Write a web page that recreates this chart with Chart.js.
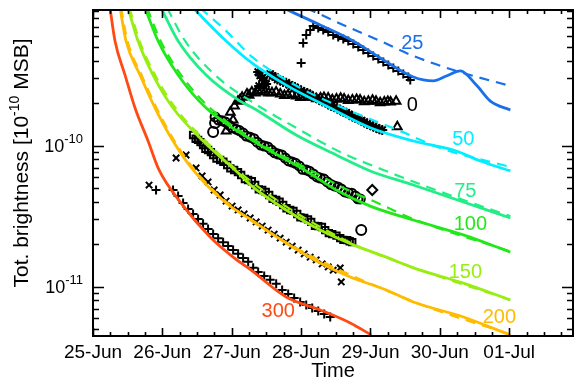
<!DOCTYPE html>
<html>
<head>
<meta charset="utf-8">
<script src="https://cdn.jsdelivr.net/npm/chart.js@4"></script>
<style>
  html, body { margin: 0; padding: 0; background: #fff; }
</style>
</head>
<body>
<canvas id="lightCurves" width="581" height="387"></canvas>
<script>
// x = days since 25-Jun 00:00, y = total brightness
var dayLabels = ["25-Jun", "26-Jun", "27-Jun", "28-Jun", "29-Jun", "30-Jun", "01-Jul"];
var decades = [-12, -11, -10, -9];

// model curves, solid
var model300 = [[0.245,9.48e-10],[0.317,5.53e-10],[0.462,3.17e-10],[0.606,1.85e-10],[0.794,1.08e-10],[0.952,6.73e-11],[1.270,3.92e-11],[1.688,2.25e-11],[2.020,1.62e-11],[2.280,1.31e-11],[2.785,8.45e-12],[3.276,6.84e-12],[3.709,5.53e-12],[4.012,4.54e-12]];
var model200 = [[0.390,9.48e-10],[0.476,5.53e-10],[0.678,3.17e-10],[0.895,1.85e-10],[1.154,1.08e-10],[1.443,6.73e-11],[1.919,3.92e-11],[2.309,2.92e-11],[2.785,2.04e-11],[3.276,1.47e-11],[3.709,1.17e-11],[4.228,9.48e-12],[4.618,7.79e-12],[5.339,6.10e-12],[6.017,4.54e-12]];
var model150 = [[0.505,9.48e-10],[0.649,5.53e-10],[0.866,3.17e-10],[1.154,1.85e-10],[1.587,1.08e-10],[2.063,6.62e-11],[2.309,5.09e-11],[2.785,3.50e-11],[3.276,2.52e-11],[3.752,1.98e-11],[4.228,1.62e-11],[4.618,1.36e-11],[5.339,1.06e-11],[6.017,8.05e-12]];
var model100 = [[0.750,9.48e-10],[0.938,5.53e-10],[1.227,3.17e-10],[1.631,1.85e-10],[2.367,1.04e-10],[3.074,6.62e-11],[3.506,4.85e-11],[3.997,3.73e-11],[4.618,2.97e-11],[5.339,2.33e-11],[6.017,1.76e-11]];
var model75 = [[0.981,9.48e-10],[1.227,5.53e-10],[1.631,3.17e-10],[2.121,2.07e-10],[2.309,1.85e-10],[2.929,1.19e-10],[3.506,8.59e-11],[3.997,6.62e-11],[4.618,5.26e-11],[5.339,3.99e-11],[6.017,3.07e-11]];
var model50 = [[1.443,9.48e-10],[1.919,5.53e-10],[2.309,3.80e-10],[2.785,2.69e-10],[3.420,1.85e-10],[3.997,1.34e-10],[4.618,1.08e-10],[5.195,9.32e-11],[5.584,7.79e-11],[6.017,6.62e-11]];
var model25 = [[2.742,9.48e-10],[3.276,7.18e-10],[3.752,5.53e-10],[4.141,4.19e-10],[4.618,3.07e-10],[4.906,2.88e-10],[5.094,3.12e-10],[5.296,3.39e-10],[5.527,2.69e-10],[5.729,2.07e-10],[6.017,1.79e-10]];

// model curves, dashed
var dash200 = [[0.405,9.48e-10],[0.497,5.53e-10],[0.700,3.17e-10],[0.916,1.85e-10],[1.176,1.08e-10],[1.465,6.73e-11],[1.934,3.95e-11],[2.785,2.06e-11],[4.618,7.85e-12],[6.017,4.58e-12]];
var dash150 = [[0.527,9.48e-10],[0.671,5.53e-10],[0.895,3.17e-10],[1.190,1.85e-10],[1.623,1.08e-10],[2.092,6.62e-11],[2.843,3.55e-11],[3.752,2.01e-11],[4.618,1.37e-11],[6.017,8.05e-12]];
var dash100 = [[0.780,9.48e-10],[0.975,5.53e-10],[1.270,3.17e-10],[1.688,1.85e-10],[2.410,1.04e-10],[3.131,6.73e-11],[3.636,4.95e-11],[4.141,3.85e-11],[4.618,3.02e-11],[6.017,1.78e-11]];
var dash75 = [[1.068,9.48e-10],[1.328,5.53e-10],[1.760,3.17e-10],[2.338,1.98e-10],[2.929,1.34e-10],[3.564,9.02e-11],[4.185,6.73e-11],[5.339,4.12e-11],[6.017,3.17e-11]];
var dash50 = [[1.544,9.48e-10],[1.905,6.62e-10],[2.294,4.26e-10],[2.987,2.57e-10],[3.608,1.85e-10],[4.430,1.27e-10],[5.007,9.63e-11],[6.017,7.06e-11]];
var dash25 = [[3.074,9.48e-10],[3.608,7.18e-10],[4.141,5.53e-10],[4.618,4.33e-10],[5.195,3.44e-10],[6.017,2.65e-10]];

// observations
var obs25 = [[3.001,3.86e-10],[3.030,5.35e-10],[3.074,6.10e-10],[3.131,6.62e-10],[3.175,7.06e-10],[3.247,6.84e-10],[3.319,6.62e-10],[3.391,6.40e-10],[3.463,6.10e-10],[3.535,5.90e-10],[3.608,5.71e-10],[3.680,5.53e-10],[3.752,5.26e-10],[3.824,5.01e-10],[3.896,4.77e-10],[3.968,4.54e-10],[4.040,4.33e-10],[4.113,4.12e-10],[4.185,3.92e-10],[4.257,3.74e-10],[4.329,3.56e-10],[4.401,3.39e-10],[4.473,3.23e-10],[4.545,3.07e-10],[4.574,2.92e-10]];
var obs50 = [[2.381,3.33e-10],[2.439,3.02e-10],[2.496,2.74e-10],[2.395,2.65e-10],[2.554,3.23e-10],[2.626,3.07e-10],[2.698,2.92e-10],[2.785,2.79e-10],[2.872,2.65e-10],[2.958,2.52e-10],[3.045,2.40e-10],[3.131,2.29e-10],[3.218,2.18e-10],[3.304,2.07e-10],[3.391,1.98e-10],[3.478,1.88e-10],[3.564,1.79e-10],[3.651,1.71e-10],[3.738,1.62e-10],[3.824,1.55e-10],[3.911,1.47e-10],[3.997,1.40e-10],[4.084,1.34e-10],[4.170,1.29e-10],
  [2.41,3.15e-10],[2.47,2.90e-10],[2.59,3.12e-10],[2.66,2.95e-10],[2.74,2.83e-10],[2.83,2.70e-10],[2.91,2.60e-10],[3.00,2.45e-10],[3.09,2.36e-10],[3.17,2.22e-10],[3.26,2.13e-10],[3.35,2.03e-10],[3.43,1.92e-10],[3.52,1.84e-10],[3.61,1.74e-10],[3.69,1.67e-10],[3.78,1.58e-10],[3.87,1.51e-10],[3.95,1.43e-10],[4.04,1.37e-10],[4.13,1.31e-10]];
var obs0 = [[1.919,1.27e-10],[2.020,1.52e-10],[1.98,1.73e-10],[2.04,1.91e-10],[2.09,2.07e-10],[2.15,2.21e-10],[2.22,2.33e-10],[2.29,2.40e-10],[2.38,2.44e-10],[2.48,2.40e-10],[2.58,2.37e-10],[2.70,2.33e-10],[2.81,2.29e-10],[2.93,2.25e-10],[3.05,2.21e-10],[3.16,2.21e-10],[3.28,2.18e-10],[3.39,2.18e-10],[3.51,2.14e-10],[3.62,2.14e-10],[3.74,2.11e-10],[3.85,2.11e-10],[3.97,2.07e-10],[4.08,2.07e-10],[4.20,2.04e-10],[4.29,2.04e-10],[4.37,2.07e-10],[4.387,1.36e-10],
  [2.12,2.12e-10],[2.25,2.28e-10],[2.34,2.36e-10],[2.43,2.47e-10],[2.53,2.36e-10],[2.64,2.40e-10],[2.76,2.27e-10],[2.87,2.31e-10],[2.99,2.20e-10],[3.10,2.24e-10],[3.22,2.15e-10],[3.33,2.20e-10],[3.45,2.12e-10],[3.57,2.17e-10],[3.68,2.09e-10],[3.80,2.13e-10],[3.91,2.05e-10],[4.03,2.10e-10],[4.14,2.02e-10],[4.25,2.06e-10]];
var obs100 = [[1.760,1.60e-10],[1.861,1.50e-10],[1.962,1.40e-10],[2.063,1.31e-10],[2.164,1.23e-10],[2.266,1.15e-10],[2.367,1.06e-10],[2.468,9.95e-11],[2.569,9.32e-11],[2.670,8.73e-11],[2.771,8.18e-11],[2.872,7.66e-11],[2.973,7.18e-11],[3.074,6.73e-11],[3.175,6.30e-11],[3.276,5.90e-11],[3.377,5.53e-11],[3.478,5.18e-11],[3.579,4.93e-11],[3.680,4.62e-11],[3.781,4.40e-11],[3.853,4.19e-11],
  [1.81,1.52e-10],[1.91,1.47e-10],[2.01,1.34e-10],[2.11,1.28e-10],[2.21,1.17e-10],[2.32,1.12e-10],[2.42,1.01e-10],[2.52,9.8e-11],[2.62,8.9e-11],[2.72,8.6e-11],[2.82,7.8e-11],[2.92,7.5e-11],[3.02,6.8e-11],[3.12,6.6e-11],[3.23,6.0e-11],[3.33,5.8e-11],[3.43,5.3e-11],[3.53,5.1e-11],[3.63,4.7e-11],[3.73,4.6e-11],[3.82,4.2e-11]];
var obs100End = [[4.026,4.85e-11]];
var obs150 = [[1.443,1.19e-10],[1.515,1.10e-10],[1.587,1.01e-10],[1.659,9.32e-11],[1.732,8.59e-11],[1.833,7.92e-11],[1.934,7.30e-11],[2.035,6.73e-11],[2.136,6.20e-11],[2.237,5.71e-11],[2.338,5.26e-11],[2.439,4.85e-11],[2.540,4.47e-11],[2.641,4.12e-11],[2.742,3.80e-11],[2.843,3.50e-11],[2.944,3.28e-11],[3.045,3.07e-11],[3.146,2.88e-11],[3.247,2.69e-11],[3.348,2.52e-11],[3.449,2.36e-11],[3.564,2.21e-11],[3.665,2.14e-11],[3.737,2.07e-11],
  [1.48,1.12e-10],[1.55,1.06e-10],[1.62,9.5e-11],[1.70,9.0e-11],[1.78,8.1e-11],[1.88,7.7e-11],[1.98,6.9e-11],[2.09,6.5e-11],[2.19,5.8e-11],[2.29,5.6e-11],[2.39,4.9e-11],[2.49,4.7e-11],[2.59,4.2e-11],[2.69,4.0e-11],[2.79,3.6e-11],[2.89,3.45e-11],[2.99,3.1e-11],[3.10,3.0e-11],[3.20,2.7e-11],[3.30,2.65e-11],[3.40,2.4e-11],[3.51,2.3e-11],[3.61,2.15e-11],[3.70,2.1e-11]];
var obsCircles = [[3.867,2.52e-11],[1.760,1.45e-10],[1.732,1.25e-10]];
var obs200 = [[1.198,8.18e-11],[1.342,8.59e-11],[1.486,6.95e-11],[1.573,6.10e-11],[1.659,5.53e-11],[1.746,4.85e-11],[1.833,4.47e-11],[1.919,4.05e-11],[2.006,3.73e-11],[2.092,3.50e-11],[2.179,3.28e-11],[2.266,3.07e-11],[2.352,2.88e-11],[2.439,2.69e-11],[2.525,2.52e-11],[2.612,2.36e-11],[2.698,2.21e-11],[2.785,2.07e-11],[2.872,1.94e-11],[2.958,1.82e-11],[3.045,1.71e-11],[3.131,1.62e-11],[3.218,1.55e-11],[3.304,1.45e-11],[3.391,1.38e-11],[3.463,1.31e-11],[3.564,1.36e-11],[3.579,1.08e-11],[0.808,5.26e-11]];
var obs300 = [[0.909,4.85e-11],[1.154,4.85e-11],[1.227,4.40e-11],[1.299,3.92e-11],[1.371,3.56e-11],[1.443,3.28e-11],[1.515,3.02e-11],[1.587,2.79e-11],[1.659,2.57e-11],[1.732,2.36e-11],[1.804,2.21e-11],[1.876,2.07e-11],[1.948,1.94e-11],[2.020,1.82e-11],[2.092,1.71e-11],[2.164,1.60e-11],[2.237,1.50e-11],[2.309,1.36e-11],[2.381,1.27e-11],[2.468,1.19e-11],[2.554,1.12e-11],[2.641,1.05e-11],[2.727,9.48e-12],[2.814,8.88e-12],[2.900,8.32e-12],[2.987,7.79e-12],[3.074,7.42e-12],[3.160,7.06e-12],[3.247,6.73e-12],[3.333,6.41e-12],[3.420,6.10e-12]];

var curveColors = { "300": "#ff4a14", "200": "#ffbb00", "150": "#99ee11", "100": "#22e81a", "75": "#22ee88", "50": "#00eeff", "25": "#1a70e8", "0": "#000000" };

// where the angle labels sit (day, brightness)
var curveLabels = [
  ["25", 4.603, 5.35e-10],
  ["0", 4.603, 1.94e-10],
  ["50", 5.339, 1.10e-10],
  ["75", 5.368, 4.77e-11],
  ["100", 5.440, 2.74e-11],
  ["150", 5.368, 1.27e-11],
  ["200", 5.859, 6.00e-12],
  ["300", 2.670, 6.62e-12]
];

function pts(arr) {
  return arr.map(function (p) { return { x: p[0], y: p[1] }; });
}

function curve(arr, key, dashed) {
  return {
    data: pts(arr),
    showLine: true,
    borderColor: curveColors[key],
    borderWidth: dashed ? 2.2 : 2.8,
    borderDash: dashed ? [10, 7] : [],
    pointRadius: 0,
    cubicInterpolationMode: "monotone",
    fill: false,
    order: 0,
  };
}

function marks(arr, style, r) {
  return {
    data: pts(arr),
    showLine: false,
    pointStyle: style,
    pointRadius: r || 4.5,
    borderColor: "#000",
    backgroundColor: "rgba(0,0,0,0)",
    borderWidth: 2,
    order: 1,
  };
}

var datasets = [
  curve(dash200, "200", true),
  curve(dash150, "150", true),
  curve(dash100, "100", true),
  curve(dash75, "75", true),
  curve(dash50, "50", true),
  curve(dash25, "25", true),
  curve(model300, "300"),
  curve(model200, "200"),
  curve(model150, "150"),
  curve(model100, "100"),
  curve(model75, "75"),
  curve(model50, "50"),
  curve(model25, "25"),
  marks(obs25, "cross"),
  marks(obs50, "star", 5),
  marks(obs0, "triangle", 5),
  marks(obs100, "circle"),
  marks(obs100End, "rectRot", 5),
  marks(obs150, "rect"),
  marks(obsCircles, "circle", 5),
  marks(obs200, "crossRot"),
  marks(obs300, "cross"),
];

function drawPow(c, base, exp, xRight, yBase, size, supSize, rise) {
  c.font = size + "px 'Liberation Sans', Arial, sans-serif";
  var wb = c.measureText(base).width;
  c.font = supSize + "px 'Liberation Sans', Arial, sans-serif";
  var we = c.measureText(exp).width;
  c.textAlign = "left";
  c.textBaseline = "alphabetic";
  c.font = size + "px 'Liberation Sans', Arial, sans-serif";
  c.fillText(base, xRight - wb - we, yBase);
  c.font = supSize + "px 'Liberation Sans', Arial, sans-serif";
  c.fillText(exp, xRight - we, yBase - rise);
}

// box, inward ticks, log labels, y title, curve labels
var frame = {
  id: "frame",
  afterDatasetsDraw: function (chart) {
    var c = chart.ctx, a = chart.chartArea, x = chart.scales.x, y = chart.scales.y;
    c.save();
    c.strokeStyle = "#000";
    c.fillStyle = "#000";
    c.lineWidth = 1.6;
    c.beginPath();
    for (var q = 0; q / 4 <= x.max; q++) {
      var px = Math.round(x.getPixelForValue(q / 4)) + 0.5;
      var len = q % 4 === 0 ? 8 : 4;
      c.moveTo(px, a.bottom); c.lineTo(px, a.bottom - len);
      c.moveTo(px, a.top); c.lineTo(px, a.top + len);
    }
    decades.forEach(function (e) {
      for (var m = 1; m <= 9; m++) {
        var v = m * Math.pow(10, e);
        if (v < y.min || v > y.max) continue;
        var py = Math.round(y.getPixelForValue(v)) + 0.5;
        var tl = m === 1 ? 11 : 6;
        c.moveTo(a.left, py); c.lineTo(a.left + tl, py);
        c.moveTo(a.right, py); c.lineTo(a.right - tl, py);
      }
    });
    c.stroke();
    c.lineWidth = 2;
    c.strokeRect(a.left, a.top, a.right - a.left, a.bottom - a.top);

    decades.forEach(function (e) {
      var v = Math.pow(10, e);
      if (v < y.min || v > y.max) return;
      var py = y.getPixelForValue(v);
      drawPow(c, "10", "-" + Math.abs(e), a.left - 10, py + 6.5, 18, 13, 9);
    });

    c.save();
    c.translate(28, (a.top + a.bottom) / 2 - 10);
    c.rotate(-Math.PI / 2);
    var f = "21px 'Liberation Sans', Arial, sans-serif", fs = "14px 'Liberation Sans', Arial, sans-serif";
    var t1 = "Tot. brightness [10", t2 = "-10", t3 = " MSB]";
    c.font = f; var w1 = c.measureText(t1).width, w3 = c.measureText(t3).width;
    c.font = fs; var w2 = c.measureText(t2).width;
    var x0 = -(w1 + w2 + w3) / 2;
    c.textBaseline = "alphabetic"; c.textAlign = "left";
    c.font = f; c.fillText(t1, x0, 0);
    c.font = fs; c.fillText(t2, x0 + w1, -9);
    c.font = f; c.fillText(t3, x0 + w1 + w2, 0);
    c.restore();

    c.font = "20px 'Liberation Sans', Arial, sans-serif";
    c.textAlign = "center";
    c.textBaseline = "middle";
    curveLabels.forEach(function (l) {
      c.fillStyle = curveColors[l[0]];
      c.fillText(l[0], x.getPixelForValue(l[1]), y.getPixelForValue(l[2]));
    });
    c.restore();
  },
};

//charts
Chart.defaults.font.family = "'Liberation Sans', Arial, sans-serif";
Chart.defaults.color = "#000";

var ctx = document.getElementById("lightCurves");

var LightChart = new Chart(ctx, {
  type: "scatter",
  data: { datasets: datasets },
  options: {
    responsive: false,
    animation: false,
    layout: { padding: { left: 0, right: 8, top: 10, bottom: 0 } },
    plugins: { legend: { display: false }, tooltip: { enabled: false } },
    scales: {
      x: {
        type: "linear",
        min: 0,
        max: 6.92,
        grid: { display: false, drawTicks: false },
        border: { display: false },
        ticks: {
          stepSize: 1,
          includeBounds: false,
          autoSkip: false,
          maxRotation: 0,
          padding: 5,
          font: { size: 19 },
          callback: function (v) { return Number.isInteger(v) ? dayLabels[v] : ""; },
        },
        title: { display: true, text: "Time", font: { size: 20 }, padding: { top: 0, bottom: 4 } },
        afterFit: function (s) { s.height = 51; },
      },
      y: {
        type: "logarithmic",
        min: 4.47e-12,
        max: 9.17e-10,
        grid: { display: false, drawTicks: false },
        border: { display: false },
        ticks: { display: false },
        afterFit: function (s) { s.width = 93; },
      },
    },
  },
  plugins: [frame],
});
</script>
</body>
</html>
